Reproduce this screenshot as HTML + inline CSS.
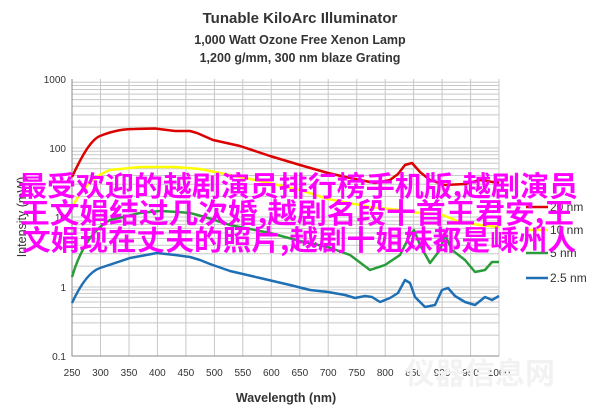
<!DOCTYPE html><html><head><style>body{margin:0;background:#fff}svg{display:block}</style></head><body>
<svg width="600" height="416" xmlns="http://www.w3.org/2000/svg" font-family="Liberation Sans, sans-serif">
<rect width="600" height="416" fill="#fff"/>
<g text-anchor="middle" font-weight="bold" fill="#333">
<text x="300" y="23" font-size="15">Tunable KiloArc Illuminator</text>
<text x="300" y="44" font-size="12.5">1,000 Watt Ozone Free Xenon Lamp</text>
<text x="300" y="62" font-size="12.5">1,200 g/mm, 300 nm blaze Grating</text>
</g>
<g stroke="#c8c8c8" stroke-width="1" fill="none">
<path d="M100.5 79V356M129 79V356M157.4 79V356M185.9 79V356M214.4 79V356M242.8 79V356M271.3 79V356M299.8 79V356M328.2 79V356M356.7 79V356M385.2 79V356M413.6 79V356M442.1 79V356M470.6 79V356M499 79V356"/>
<path d="M72 148H499M72 217H499M72 287H499
M72 127.1H499M72 114.9H499M72 106.3H499M72 99.6H499M72 94.1H499M72 89.5H499M72 85.5H499M72 82.2H499
M72 196.4H499M72 184.2H499M72 175.5H499M72 168.8H499M72 163.3H499M72 158.7H499M72 154.7H499M72 151.2H499
M72 266.1H499M72 253.8H499M72 245.2H499M72 238.5H499M72 233H499M72 228.4H499M72 224.4H499M72 220.9H499
M72 335.1H499M72 322.9H499M72 314.2H499M72 307.5H499M72 302H499M72 297.4H499M72 293.4H499M72 289.9H499"/>
</g>
<path d="M72 79V356H499" stroke="#888" fill="none"/>
<g font-size="10" fill="#333" text-anchor="end">
<text x="66" y="83">1000</text><text x="66" y="152">100</text><text x="66" y="221">10</text><text x="66" y="291">1</text><text x="66" y="360">0.1</text>
</g>
<g font-size="10" fill="#333" text-anchor="middle">
<text x="72" y="376">250</text><text x="100.5" y="376">300</text><text x="129" y="376">350</text><text x="157.4" y="376">400</text><text x="185.9" y="376">450</text><text x="214.4" y="376">500</text><text x="242.8" y="376">550</text><text x="271.3" y="376">600</text><text x="299.8" y="376">650</text><text x="328.2" y="376">700</text><text x="356.7" y="376">750</text><text x="385.2" y="376">800</text><text x="413.6" y="376">850</text><text x="442.1" y="376">900</text><text x="470.6" y="376">950</text><text x="499" y="376">1000</text>
</g>
<text x="286" y="402" font-size="12.5" font-weight="bold" fill="#333" text-anchor="middle">Wavelength (nm)</text>
<text transform="translate(26,217) rotate(-90)" font-size="12.5" fill="#333" text-anchor="middle">Intensity (mW)</text>
<g fill="none" stroke-width="2.5" stroke-linejoin="round">
<path stroke="#d00" d="M72 177C80 160 90 140 100 136C115 130 125 129 135 129L155 128.5L175 131L190 131L197 133L213 140L240 146L270 156L300 165L328 173L350 178L375 183L390 180L398 174L405 165L412 163L420 172L430 180L445 185L465 184L480 180L499 183"/>
<path stroke="#ff0" d="M72 208C80 190 95 175 110 170L140 167L175 167L200 169L230 175L265 182L300 190L328 199L370 207L400 210L420 213L440 214L460 222L480 225L499 227"/>
<path stroke="#2a9d3a" d="M72 277C80 250 92 230 110 220L140 213L160 211L178 212L190 213L205 217L230 225L270 233L300 241L328 247L350 255L370 270L385 265L400 255L410 235L414 230L420 245L430 263L440 250L445 235L452 250L465 260L475 272L485 270L492 262L499 262"/>
<path stroke="#1f6fb5" d="M72 303C78 290 88 272 100 268L130 258L157 253L175 255L190 257L200 260L210 264L230 271L260 278L290 285L310 290L328 292L345 295L355 298L365 296L372 297L380 302L390 298L398 293L405 280L410 283L415 297L425 307L435 305L442 290L448 288L455 296L465 302L475 305L485 297L492 300L499 296"/>
</g>
<g stroke-width="2.5">
<line x1="526" y1="207" x2="548" y2="207" stroke="#d00"/>
<line x1="526" y1="230" x2="548" y2="230" stroke="#ff0"/>
<line x1="526" y1="253" x2="548" y2="253" stroke="#2a9d3a"/>
<line x1="526" y1="278" x2="548" y2="278" stroke="#1f6fb5"/>
</g>
<g font-size="12" fill="#333">
<text x="550" y="211">20 nm</text><text x="550" y="234">10 nm</text><text x="550" y="257">5 nm</text><text x="550" y="282">2.5 nm</text>
</g>
<text x="480" y="384" font-size="30" font-weight="bold" fill="#f2f2f2" text-anchor="middle" font-family="Noto Sans CJK SC, sans-serif">仪器信息网</text>
<g font-family="Noto Sans CJK SC, sans-serif" font-size="28" font-weight="bold" fill="#f0f">
<text x="18" y="196" textLength="560" lengthAdjust="spacingAndGlyphs">最受欢迎的越剧演员排行榜手机版,越剧演员</text>
<text x="20" y="223" textLength="554" lengthAdjust="spacingAndGlyphs">王文娟结过几次婚,越剧名段十首王君安,王</text>
<text x="22" y="250" textLength="554" lengthAdjust="spacingAndGlyphs">文娟现在丈夫的照片,越剧十姐妹都是嵊州人</text>
</g>
</svg>
</body></html>
